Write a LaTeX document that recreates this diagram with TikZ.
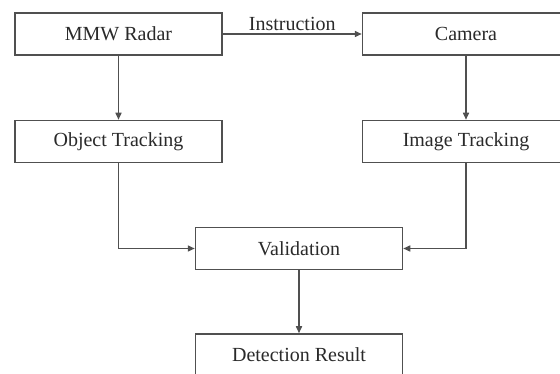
\documentclass[tikz,border=0pt]{standalone}
\usepackage{fontspec}
\setmainfont{Liberation Serif}
\usetikzlibrary{arrows.meta}
\definecolor{linec}{HTML}{505050}
\definecolor{textc}{HTML}{2A2A2A}
\tikzset{
  box/.style={draw=linec, line width=1.5pt, fill=white, minimum width=207pt, minimum height=42pt, inner sep=0pt, text=textc, font=\fontsize{20}{24}\selectfont},
  conn/.style={draw=linec, line width=1.5pt, -{Triangle[length=7pt,width=6pt]}},
  lbl/.style={text=textc, font=\fontsize{20}{24}\selectfont, inner sep=1pt}
}
\begin{document}
\begin{tikzpicture}[x=1pt,y=-1pt]
\useasboundingbox (0,0) rectangle (560,374);
\clip (0,0) rectangle (560,374);
\fill[white] (0,0) rectangle (560,374);
\node[box] (radar) at (118.5,34) {MMW Radar};
\node[box] (camera) at (466,34) {Camera};
\node[box] (obj) at (118.5,141.5) {Object Tracking};
\node[box] (img) at (466,141.5) {Image Tracking};
\node[box] (val) at (299,248.5) {Validation};
\node[box] (det) at (299,355) {Detection Result};
\draw[conn] (radar) -- node[lbl, above=2pt] (instr) {Instruction} (camera);
\draw[conn] (radar) -- (obj);
\draw[conn] (camera) -- (img);
\draw[conn] (obj.south) |- (val.west);
\draw[conn] (img.south) |- (val.east);
\draw[conn] (val) -- (det);
\end{tikzpicture}
\end{document}
